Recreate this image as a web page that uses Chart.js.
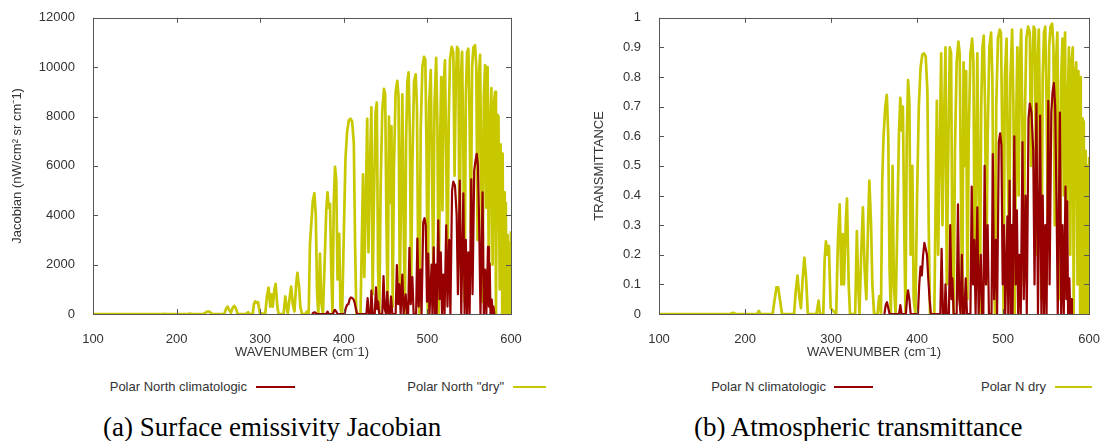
<!DOCTYPE html>
<html lang="en">
<head>
  <meta charset="UTF-8" />
  <title>Surface emissivity Jacobian / Atmospheric transmittance</title>
  <script src="https://cdn.jsdelivr.net/npm/chart.js"></script>
  <style>
    body {
      margin: 0;
      background: #fff;
      font-family: "Liberation Sans", Arial, sans-serif;
    }
    #page {
      position: relative;
      width: 1110px;
      height: 441px;
      overflow: hidden;
    }
    .panel {
      position: absolute;
      top: 0;
      width: 555px;
      height: 370px;
    }
    .leg {
      position: absolute;
      top: 379px;
      font-size: 13px;
      line-height: 16px;
      color: #333;
      white-space: nowrap;
    }
    .swatch {
      position: absolute;
      top: 386px;
      height: 2px;
    }
    .caption {
      position: absolute;
      top: 411px;
      font-family: "Liberation Serif", "Times New Roman", serif;
      font-size: 27px;
      line-height: 32px;
      color: #000;
      white-space: nowrap;
    }
  </style>
</head>
<body>
  <div id="page">
    <div class="panel" style="left:0"><canvas id="jacChart" width="555" height="370"></canvas></div>
    <div class="panel" style="left:555px"><canvas id="transChart" width="555" height="370"></canvas></div>

    <div class="leg" style="right:863px">Polar North climatologic</div>
    <div class="swatch" style="left:256px;width:39px;background:#960000"></div>
    <div class="leg" style="right:606px">Polar North "dry"</div>
    <div class="swatch" style="left:513px;width:33px;background:#c8c800"></div>

    <div class="leg" style="right:284px">Polar N climatologic</div>
    <div class="swatch" style="left:834px;width:39px;background:#960000"></div>
    <div class="leg" style="right:64px">Polar N dry</div>
    <div class="swatch" style="left:1055px;width:37px;background:#c8c800"></div>

    <div class="caption" style="left:103px">(a) Surface emissivity Jacobian</div>
    <div class="caption" style="left:694px">(b) Atmospheric transmittance</div>
  </div>

  <script>
    // tick values
    const xTickValues = [100, 200, 300, 400, 500, 600];
    const jacTickValues = [0, 2000, 4000, 6000, 8000, 10000, 12000];
    const transTickValues = [0, 0.1, 0.2, 0.3, 0.4, 0.5, 0.6, 0.7, 0.8, 0.9, 1];

    // Polar North "dry" : wavenumber, transmittance, jacobian
    const nuDry = [
      100, 183, 186, 189, 214, 216, 218, 232, 234.5, 236.5,
      238.5, 240.5, 243, 257, 259, 261, 263, 265, 267, 269,
      271, 273, 283, 285.5, 287, 291, 292.5, 294, 296, 297.5,
      299.5, 306, 308, 310, 312, 313.5, 315, 317, 318.5, 320.5,
      322, 328, 330, 331.5, 333, 335, 337, 339, 341, 343,
      344.5, 346.5, 348, 350, 354, 356, 358, 359.5, 361, 363,
      364.8, 366.5, 368, 369.5, 371.5, 373, 375, 377, 379, 380.5,
      382, 383.5, 385, 386.5, 388, 389.5, 391, 392.5, 394.5, 396,
      398, 400, 402, 404, 406, 408, 410, 412, 413.5, 415,
      420, 423, 424.5, 426, 428, 429.5, 431, 433, 434.5, 436,
      438, 439.5, 441, 442.5, 444, 446, 448, 449.5, 451, 452.5,
      454, 455.5, 457, 458.5, 460, 462, 464, 465.5, 467, 468.5,
      470, 471.5, 473, 474.5, 476, 477.5, 479, 480.5, 482, 484,
      486, 487.5, 489, 490.5, 492, 494, 496, 497.5, 499, 500.5,
      502, 504, 505.5, 507, 508.5, 510.5, 512, 513.5, 515, 516.5,
      518, 519.5, 521, 522.5, 524, 525.5, 527, 529, 531, 532.5,
      534, 535.5, 537, 538.5, 540, 541.5, 543, 544.5, 546, 547.5,
      549, 550.5, 552, 553.5, 555, 557, 558.5, 560, 561.5, 563,
      564.5, 566, 567.5, 569, 570.5, 572, 573.5, 575, 576.5, 578,
      579.5, 581, 582, 583.5, 585, 586.5, 587.5, 588.5, 589, 589.5,
      590, 590.5, 591, 591.5, 592, 592.5, 593, 593.5, 594, 594.5,
      595, 595.5, 596, 596.5, 597, 597.5, 598, 598.5, 599, 599.5,
      600
    ];
    const transDry = [
      0, 0, 0.004, 0, 0, 0.01, 0, 0, 0.05, 0.09,
      0.09, 0.05, 0, 0, 0.08, 0.13, 0.06, 0.02, 0.12, 0.19,
      0.12, 0, 0, 0.045, 0, 0, 0.18, 0.245, 0.2, 0.23,
      0.02, 0, 0.25, 0.37, 0.1, 0.27, 0.1, 0.3, 0.39, 0.1,
      0, 0, 0.28, 0.1, 0, 0.2, 0.36, 0.15, 0.05, 0.3,
      0.45, 0.3, 0.1, 0, 0, 0.06, 0, 0.45, 0.6, 0.7,
      0.74, 0.6, 0.15, 0, 0.5, 0.1, 0, 0.3, 0.62, 0.73,
      0.62, 0.7, 0.3, 0, 0.6, 0.79, 0.72, 0.2, 0.5, 0.05,
      0, 0.4, 0.7, 0.83, 0.875, 0.88, 0.87, 0.75, 0.3, 0,
      0, 0.72, 0.2, 0.5, 0.88, 0.3, 0.6, 0.9, 0.1, 0.5,
      0.9, 0.88, 0.2, 0, 0.55, 0.85, 0.92, 0.88, 0.4, 0,
      0.85, 0.5, 0.82, 0.05, 0.6, 0.88, 0.93, 0.85, 0.1, 0.5,
      0.88, 0.4, 0, 0.7, 0.9, 0.94, 0.7, 0.1, 0.6, 0.9,
      0.95, 0.8, 0.2, 0, 0.7, 0.93, 0.96, 0.95, 0.6, 0,
      0.8, 0.93, 0.5, 0.2, 0.8, 0.96, 0.7, 0, 0.6, 0.9,
      0.4, 0.85, 0.96, 0.6, 0.1, 0.7, 0.93, 0.97, 0.95, 0.5,
      0.85, 0.97, 0.96, 0.2, 0.85, 0.96, 0.6, 0.05, 0.8, 0.95,
      0.97, 0.7, 0.3, 0.9, 0.97, 0.98, 0.9, 0.3, 0.85, 0.95,
      0.5, 0.05, 0.8, 0.93, 0.4, 0.95, 0.1, 0.7, 0.9, 0.2,
      0.85, 0.9, 0, 0.8, 0.85, 0.1, 0.82, 0.3, 0.75, 0,
      0.8, 0.2, 0.6, 0, 0.66, 0.3, 0.55, 0, 0.65, 0.2,
      0.5, 0, 0.55, 0.1, 0.5, 0, 0.5, 0.1, 0.45, 0,
      0.53
    ];
    const jacDry = [
      0, 0, 10, 0, 0, 20, 0, 0, 50, 95,
      100, 60, 0, 0, 200, 300, 150, 50, 250, 330,
      220, 0, 0, 70, 0, 0, 400, 510, 450, 480,
      40, 0, 700, 1070, 300, 800, 300, 1000, 1220, 300,
      0, 0, 710, 300, 0, 600, 1110, 400, 100, 1200,
      1670, 1100, 300, 0, 0, 100, 0, 2800, 3600, 4600,
      4890, 4000, 900, 0, 2450, 500, 0, 2000, 4200, 4930,
      4300, 4460, 1800, 0, 4500, 5960, 5400, 1400, 3250, 200,
      0, 3200, 6300, 7400, 7850, 7910, 7800, 6900, 2800, 0,
      0, 5660, 1500, 4000, 7910, 2500, 5500, 8370, 800, 4500,
      8200, 8570, 1800, 0, 5000, 8200, 9120, 8900, 3800, 0,
      8000, 4500, 7600, 300, 6000, 9000, 9450, 8800, 800, 5000,
      8900, 4000, 0, 7000, 9400, 9790, 7300, 800, 6000, 9400,
      9710, 8400, 2000, 0, 7500, 10000, 10420, 10300, 6500, 0,
      8500, 9880, 5500, 2000, 8500, 10380, 7500, 0, 6500, 9600,
      4200, 9300, 10280, 6500, 1000, 7800, 10300, 10820, 10600, 5600,
      9400, 10820, 10700, 2000, 9500, 10620, 6600, 500, 8900, 10600,
      10750, 7800, 3300, 10000, 10800, 10890, 10000, 3000, 9500, 10500,
      5500, 500, 8800, 10080, 4300, 10000, 1000, 7600, 9150, 2000,
      8500, 9000, 0, 8080, 8000, 1000, 6870, 2500, 6000, 0,
      6500, 1200, 4500, 0, 4930, 2000, 3800, 0, 4500, 1200,
      3000, 0, 3200, 600, 2900, 0, 2380, 600, 2500, 0,
      3350
    ];

    // Polar North climatologic
    const nuClim = [
      362, 363.5, 365, 366.5, 368, 379,
      380.5, 382, 387, 388.5, 389.5, 391, 392.5, 401, 402.5, 404,
      405.5, 407, 408.5, 410, 411.5, 413, 414.5, 416, 427, 428.5,
      430, 432, 433, 434.5, 437, 438.5, 440, 441, 442.5, 446,
      447.5, 449, 450.5, 452, 453.5, 455, 456.5, 458, 462, 463.5,
      465, 466.5, 468, 470, 471.5, 474, 475.5, 477, 478.5, 480,
      482, 483.5, 486.5, 488, 489.5, 491.5, 493, 495, 496.5, 498,
      499.5, 501, 502.5, 505, 506, 507.5, 509, 510, 511, 513,
      514.5, 516, 517.5, 519, 520.5, 522.5, 524, 526, 527.5, 529.5,
      531, 533, 535, 536.5, 538.7, 540.5, 543, 544.5, 546, 547.5,
      549, 550.5, 552.5, 554, 556, 557.5, 559, 560.5, 562, 563.5,
      566, 567.5, 569, 570.5, 572.5, 573.5, 574.5, 575.5, 577, 578,
      579, 580
    ];
    const transClim = [
      0, 0.03, 0.04, 0.02, 0, 0,
      0.03, 0, 0, 0.06, 0.08, 0.05, 0, 0, 0.1, 0.16,
      0.13, 0.2, 0.24, 0.22, 0.2, 0.12, 0.05, 0, 0, 0.22,
      0, 0, 0.1, 0, 0, 0.3, 0.05, 0.12, 0, 0,
      0.37, 0.05, 0, 0.2, 0, 0, 0.12, 0, 0, 0.43,
      0.1, 0.25, 0, 0.36, 0, 0.2, 0, 0, 0.5, 0.1,
      0.3, 0, 0, 0.54, 0.05, 0.25, 0, 0.58, 0.61, 0.57,
      0.1, 0.3, 0, 0.33, 0, 0.45, 0, 0.3, 0, 0.6,
      0.1, 0.35, 0, 0.2, 0, 0.58, 0.05, 0.4, 0, 0.66,
      0.71, 0.68, 0.55, 0.1, 0.71, 0, 0.67, 0, 0.4, 0,
      0.3, 0, 0.72, 0.1, 0.68, 0.75, 0.78, 0.7, 0.4, 0,
      0.68, 0, 0.3, 0, 0.43, 0.05, 0.38, 0, 0.12, 0,
      0.05, 0
    ];
    const jacClim = [
      0, 50, 70, 40, 0, 0,
      100, 0, 0, 130, 170, 100, 0, 0, 250, 375,
      400, 600, 670, 650, 600, 450, 200, 0, 0, 640,
      0, 0, 950, 0, 0, 1080, 200, 500, 0, 0,
      1540, 200, 0, 900, 0, 0, 710, 0, 0, 1980,
      400, 1200, 0, 1600, 0, 800, 0, 0, 2680, 400,
      1500, 0, 0, 3050, 300, 1800, 0, 3700, 3880, 3600,
      500, 2450, 0, 2000, 0, 2700, 0, 2000, 0, 3790,
      600, 2500, 0, 1600, 0, 3590, 300, 3000, 0, 5000,
      5360, 5200, 4000, 800, 5400, 0, 4890, 0, 3000, 0,
      2500, 0, 5460, 800, 5800, 6200, 6490, 6000, 3500, 0,
      4930, 0, 1800, 0, 2720, 300, 2050, 0, 580, 0,
      300, 0
    ];

    const RED = '#960000';
    const YELLOW = '#c8c800';
    const tickFont = { family: 'Liberation Sans', size: 13 };

    // gnuplot style box with inward ticks on all four sides
    const framePlugin = {
      id: 'frame',
      afterDatasetsDraw(chart) {
        const { ctx, chartArea: a, scales } = chart;
        const x = scales.x, y = scales.y;
        ctx.save();
        ctx.strokeStyle = '#555';
        ctx.lineWidth = 1;
        ctx.beginPath();
        x.ticks.forEach(t => {
          const px = Math.round(x.getPixelForValue(t.value)) + 0.5;
          ctx.moveTo(px, a.bottom); ctx.lineTo(px, a.bottom - 5);
          ctx.moveTo(px, a.top); ctx.lineTo(px, a.top + 5);
        });
        y.ticks.forEach(t => {
          const py = Math.round(y.getPixelForValue(t.value)) + 0.5;
          ctx.moveTo(a.left, py); ctx.lineTo(a.left + 5, py);
          ctx.moveTo(a.right, py); ctx.lineTo(a.right - 5, py);
        });
        ctx.stroke();
        ctx.strokeRect(Math.round(a.left) + 0.5, Math.round(a.top) + 0.5,
                       Math.round(a.width), Math.round(a.height));
        ctx.restore();
      }
    };

    function toPoints(xs, ys) {
      return xs.map((v, i) => ({ x: v, y: ys[i] }));
    }

    function makeChart(id, cfg) {
      const ctx = document.getElementById(id).getContext('2d');
      return new Chart(ctx, {
        type: 'line',
        data: {
          datasets: [
            {
              label: cfg.climLabel,
              data: toPoints(nuClim, cfg.clim),
              borderColor: RED,
              borderWidth: 2.2,
              order: 0
            },
            {
              label: cfg.dryLabel,
              data: toPoints(nuDry, cfg.dry),
              borderColor: YELLOW,
              borderWidth: 2.7,
              order: 1
            }
          ]
        },
        options: {
          responsive: false,
          animation: false,
          events: [],
          layout: { padding: { top: 16, right: cfg.padRight, left: 0, bottom: 0 } },
          elements: {
            point: { radius: 0 },
            line: { tension: 0, borderJoinStyle: 'round', fill: false }
          },
          plugins: {
            legend: { display: false },
            tooltip: { enabled: false }
          },
          scales: {
            x: {
              type: 'linear',
              min: 100,
              max: 600,
              afterBuildTicks: s => { s.ticks = xTickValues.map(v => ({ value: v })); },
              afterFit: s => { s.height = 56; },
              grid: { display: false },
              border: { display: false },
              ticks: {
                font: tickFont, color: '#333', padding: 10,
                maxRotation: 0, autoSkip: false,
                callback: v => String(v)
              },
              title: {
                display: true,
                text: 'WAVENUMBER (cm\u207B1)',
                font: tickFont, color: '#333',
                padding: { top: 4, bottom: 10 }
              }
            },
            y: {
              type: 'linear',
              min: cfg.yMin,
              max: cfg.yMax,
              afterBuildTicks: s => { s.ticks = cfg.yTicks.map(v => ({ value: v })); },
              afterFit: s => { s.width = cfg.yWidth; },
              grid: { display: false },
              border: { display: false },
              ticks: {
                font: tickFont, color: '#333', padding: 10,
                autoSkip: false,
                callback: v => String(v)
              },
              title: {
                display: true,
                text: cfg.yTitle,
                font: tickFont, color: '#333',
                padding: { top: cfg.yTitlePad, bottom: 0 }
              }
            }
          }
        },
        plugins: [framePlugin]
      });
    }

    makeChart('jacChart', {
      clim: jacClim, dry: jacDry,
      climLabel: 'Polar North climatologic', dryLabel: 'Polar North "dry"',
      yMin: 0, yMax: 12000, yTicks: jacTickValues,
      yWidth: 93, padRight: 44, yTitlePad: 10,
      yTitle: 'Jacobian (nW/cm\u00B2 sr cm\u207B1)'
    });

    makeChart('transChart', {
      clim: transClim, dry: transDry,
      climLabel: 'Polar N climatologic', dryLabel: 'Polar N dry',
      yMin: 0, yMax: 1, yTicks: transTickValues,
      yWidth: 104, padRight: 16, yTitlePad: 37,
      yTitle: 'TRANSMITTANCE'
    });
  </script>
</body>
</html>
